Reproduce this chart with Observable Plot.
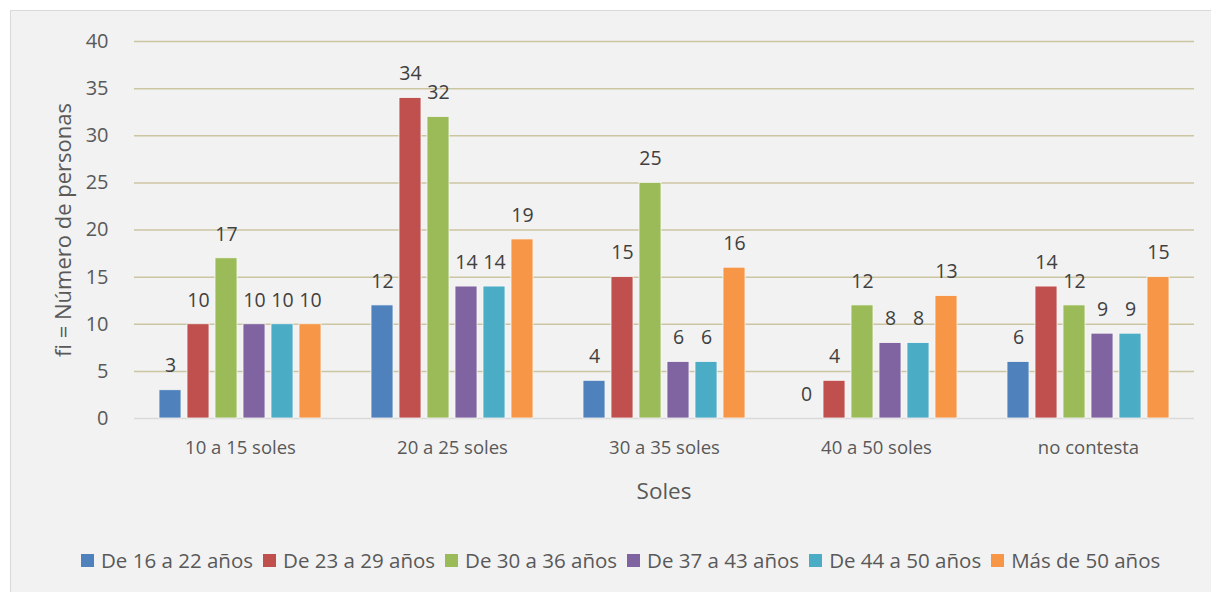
<!DOCTYPE html>
<html>
<head>
<meta charset="utf-8">
<script src="https://cdn.jsdelivr.net/npm/d3@7"></script>
<script src="https://cdn.jsdelivr.net/npm/@observablehq/plot@0.6"></script>
<style>
  html, body { margin: 0; padding: 0; background: #ffffff; }
  #frame { position: absolute; left: 10px; top: 10px; width: 1210px; height: 590px;
    background: #f2f2f2; border: 1px solid #d9d9d9; font-family: "Open Sans", sans-serif; color: #595959; }
  #chart { position: absolute; left: 0; top: 0; }
  .ylab { position: absolute; left: 51px; top: 219px; transform: translate(-50%, -50%) rotate(-90deg);
    white-space: nowrap; font-size: 22px; color: #595959; }
  .xlab { position: absolute; left: 653px; top: 479px; transform: translate(-50%, -50%);
    font-size: 22.5px; color: #595959; }
  #legend { position: absolute; left: 70px; top: 535px; display: flex; gap: 10px; font-size: 20.5px; color: #595959; white-space: nowrap; }
  #legend .item { display: flex; align-items: center; gap: 7px; }
  #legend .sw { width: 13px; height: 13px; display: inline-block; }
  #chart g[aria-label^="y-axis"] text { font-size: 20px; }
</style>
</head>
<body>
<div id="frame">
  <div id="chart"></div>
  <div class="ylab">fi = Número de personas</div>
  <div class="xlab">Soles</div>
  <div id="legend"></div>
</div>
<script>
const categories = ["10 a 15 soles", "20 a 25 soles", "30 a 35 soles", "40 a 50 soles", "no contesta"];
const series = ["De 16 a 22 años", "De 23 a 29 años", "De 30 a 36 años", "De 37 a 43 años", "De 44 a 50 años", "Más de 50 años"];
const colors = ["#4F81BD", "#C0504D", "#9BBB59", "#8064A2", "#4BACC6", "#F79646"];
const s1 = [3, 12, 4, 0, 6];
const s2 = [10, 34, 15, 4, 14];
const s3 = [17, 32, 25, 12, 12];
const s4 = [10, 14, 6, 8, 9];
const s5 = [10, 14, 6, 8, 9];
const s6 = [10, 19, 16, 13, 15];
const yTicks = [0, 5, 10, 15, 20, 25, 30, 35, 40];

const seriesValues = [s1, s2, s3, s4, s5, s6];
const data = [];
categories.forEach((c, i) => {
  series.forEach((s, j) => data.push({cat: c, ser: s, v: seriesValues[j][i]}));
});

const plot = Plot.plot({
  width: 1200,
  height: 510,
  marginLeft: 121,
  marginRight: 15,
  marginTop: 30,
  marginBottom: 103,
  style: {background: "transparent", fontFamily: "Open Sans, sans-serif", fontSize: "18.5px", color: "#595959"},
  fx: {domain: categories, padding: 0, label: null, tickSize: 0, tickPadding: 22},
  x: {domain: series, paddingInner: 0.23, paddingOuter: 0.85, axis: null},
  y: {domain: [0, 40], ticks: yTicks, label: null, tickSize: 0, tickPadding: 26},
  color: {domain: series, range: colors},
  marks: [
    Plot.ruleY(yTicks.filter(d => d > 0), {stroke: "#ccc5a2", strokeWidth: 1.5}),
    Plot.ruleY([0], {stroke: "#d9d9d9", strokeWidth: 1.5}),
    Plot.barY(data, {fx: "cat", x: "ser", y: "v", fill: "ser", stroke: "#f7f7f7", strokeWidth: 0.8}),
    Plot.text(data, {fx: "cat", x: "ser", y: "v", text: d => String(d.v), dy: -24, fill: "#404040", fontSize: 19.5})
  ]
});
document.getElementById("chart").appendChild(plot);

const legend = document.getElementById("legend");
series.forEach((s, i) => {
  const it = document.createElement("div");
  it.className = "item";
  const sw = document.createElement("span");
  sw.className = "sw";
  sw.style.background = colors[i];
  const t = document.createElement("span");
  t.textContent = s;
  it.appendChild(sw); it.appendChild(t);
  legend.appendChild(it);
});
</script>
</body>
</html>
